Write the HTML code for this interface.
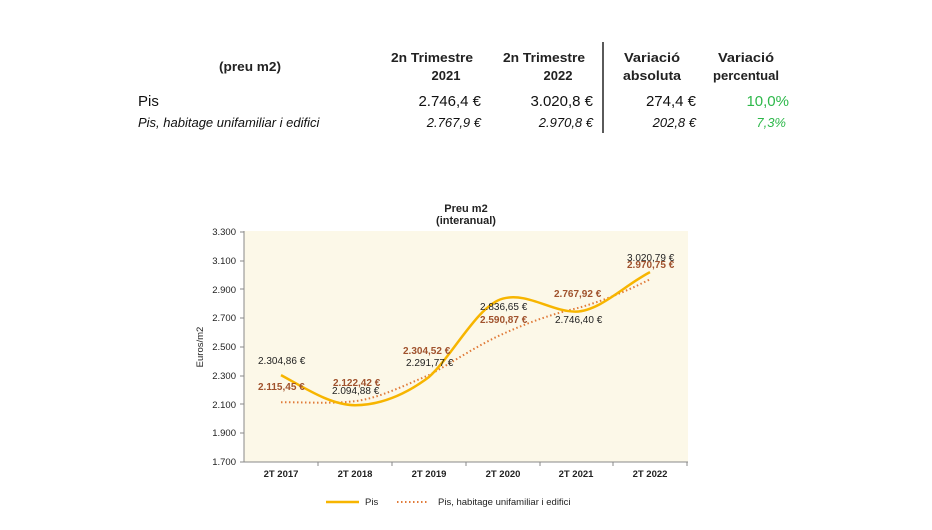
<!DOCTYPE html>
<html><head><meta charset="utf-8"><style>
body{margin:0;width:932px;height:525px;background:#fff;overflow:hidden;font-family:"Liberation Sans",Arial,sans-serif}
</style></head><body>
<svg width="932" height="525" xmlns="http://www.w3.org/2000/svg" font-family="Liberation Sans, Arial, sans-serif">
<!-- table -->
<g font-weight="bold" font-size="13" fill="#222" text-anchor="middle">
<text x="250" y="71" textLength="62" lengthAdjust="spacingAndGlyphs">(preu m2)</text>
<text x="432" y="62" textLength="82" lengthAdjust="spacingAndGlyphs">2n Trimestre</text><text x="446" y="80">2021</text>
<text x="544" y="62" textLength="82" lengthAdjust="spacingAndGlyphs">2n Trimestre</text><text x="558" y="80">2022</text>
<text x="652" y="62" textLength="56" lengthAdjust="spacingAndGlyphs">Variació</text><text x="652" y="80" textLength="58" lengthAdjust="spacingAndGlyphs">absoluta</text>
<text x="746" y="62" textLength="56" lengthAdjust="spacingAndGlyphs">Variació</text><text x="746" y="80" textLength="66" lengthAdjust="spacingAndGlyphs">percentual</text>
</g>
<line x1="603" y1="42" x2="603" y2="133" stroke="#222" stroke-width="1.5"/>
<g font-size="15" fill="#111">
<text x="138" y="106">Pis</text>
<text x="481" y="106" text-anchor="end">2.746,4 €</text>
<text x="593" y="106" text-anchor="end">3.020,8 €</text>
<text x="696" y="106" text-anchor="end">274,4 €</text>
<text x="789" y="106" text-anchor="end" fill="#2db84a">10,0%</text>
</g>
<g font-size="13" font-style="italic" fill="#111">
<text x="138" y="127">Pis, habitage unifamiliar i edifici</text>
<text x="481" y="127" text-anchor="end">2.767,9 €</text>
<text x="593" y="127" text-anchor="end">2.970,8 €</text>
<text x="696" y="127" text-anchor="end">202,8 €</text>
<text x="786" y="127" text-anchor="end" fill="#2db84a">7,3%</text>
</g>
<!-- chart -->
<text x="466" y="212" font-size="11" font-weight="bold" text-anchor="middle" fill="#222">Preu m2</text>
<text x="466" y="224" font-size="11" font-weight="bold" text-anchor="middle" fill="#222">(interanual)</text>
<rect x="244" y="231" width="444" height="231" fill="#fcf8e8"/>
<line x1="244" y1="231" x2="244" y2="462" stroke="#888"/>
<line x1="244" y1="462" x2="688" y2="462" stroke="#888"/>
<g stroke="#888">
<line x1="240" y1="232" x2="244" y2="232"/><line x1="240" y1="261" x2="244" y2="261"/><line x1="240" y1="289" x2="244" y2="289"/><line x1="240" y1="318" x2="244" y2="318"/><line x1="240" y1="347" x2="244" y2="347"/><line x1="240" y1="376" x2="244" y2="376"/><line x1="240" y1="404" x2="244" y2="404"/><line x1="240" y1="433" x2="244" y2="433"/><line x1="240" y1="462" x2="244" y2="462"/>
<line x1="318" y1="462" x2="318" y2="466"/><line x1="392" y1="462" x2="392" y2="466"/><line x1="466" y1="462" x2="466" y2="466"/><line x1="540" y1="462" x2="540" y2="466"/><line x1="613" y1="462" x2="613" y2="466"/><line x1="687" y1="462" x2="687" y2="466"/>
</g>
<g font-size="9.5" fill="#222" text-anchor="end">
<text x="236" y="235">3.300</text><text x="236" y="264">3.100</text><text x="236" y="293">2.900</text><text x="236" y="321">2.700</text><text x="236" y="350">2.500</text><text x="236" y="379">2.300</text><text x="236" y="408">2.100</text><text x="236" y="436">1.900</text><text x="236" y="465">1.700</text>
</g>
<text transform="translate(203,347) rotate(-90)" font-size="9.5" text-anchor="middle" fill="#222">Euros/m2</text>
<g font-size="9.5" font-weight="bold" fill="#222" text-anchor="middle">
<text x="281" y="477">2T 2017</text><text x="355" y="477">2T 2018</text><text x="429" y="477">2T 2019</text><text x="503" y="477">2T 2020</text><text x="576" y="477">2T 2021</text><text x="650" y="477">2T 2022</text>
</g>
<path d="M281,402.3 C305,402 330,404 355,401.2 C380,398 405,385 429,375.1 C453,362 478,345 503,333.9 C527,323 552,314 576,308.5 C600,302 625,292 650,279.3" fill="none" stroke="#e07b39" stroke-width="2" stroke-dasharray="1.5,2.5"/>
<path d="M281,375.1 C305,388 330,405 355,405.2 C380,405 405,395 429,377 C453,355 478,305 503,298.6 C527,292 552,312 576,311.6 C600,311 625,285 650,272.1" fill="none" stroke="#f7b500" stroke-width="2.5"/>
<g font-size="10" fill="#222">
<text x="258" y="364">2.304,86 €</text>
<text x="332" y="394">2.094,88 €</text>
<text x="406" y="366">2.291,77 €</text>
<text x="480" y="310">2.836,65 €</text>
<text x="555" y="323">2.746,40 €</text>
<text x="627" y="261">3.020,79 €</text>
</g>
<g font-size="10" font-weight="bold" fill="#a0522d">
<text x="258" y="390">2.115,45 €</text>
<text x="333" y="386">2.122,42 €</text>
<text x="403" y="354">2.304,52 €</text>
<text x="480" y="323">2.590,87 €</text>
<text x="554" y="297">2.767,92 €</text>
<text x="627" y="268">2.970,75 €</text>
</g>
<line x1="326" y1="502" x2="359" y2="502" stroke="#f7b500" stroke-width="2.5"/>
<text x="365" y="505" font-size="9.5" fill="#222">Pis</text>
<line x1="397" y1="502" x2="428" y2="502" stroke="#e07b39" stroke-width="2" stroke-dasharray="1.5,2.5"/>
<text x="438" y="505" font-size="9.5" fill="#222">Pis, habitage unifamiliar i edifici</text>
</svg>
</body></html>
